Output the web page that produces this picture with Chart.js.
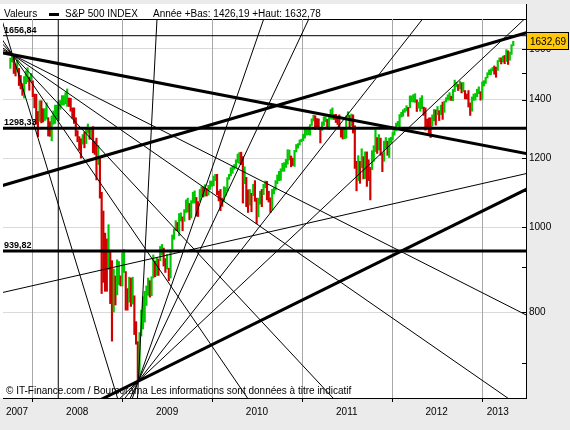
<!DOCTYPE html>
<html><head><meta charset="utf-8">
<script src="https://cdn.jsdelivr.net/npm/chart.js@4.4.1/dist/chart.umd.min.js"></script>
<style>html,body{margin:0;padding:0;background:#ebebeb}canvas{display:block}</style>
</head><body>
<canvas id="c" width="570" height="430"></canvas>
<script>
// ---------- DATA ----------
// weekly bars of the S&P 500, first week = week of 1 Oct 2007 (decimal year of mid-week)
const firstWeek = 2007.756;
const weekStep = 7 / 365.25;
const weekLow = [
 // 2007 (Oct-Dec)
 1520,1546,1500,1490,1507,1453,1440,1416,1406,1460,1467,1435,1470,1411,
 // 2008
 1370,1312,1270,1322,1317,1320,1325,1330,1272,1271,1256,1312,1315,1331,1325,1365,1380,1380,1385,1375,1375,1358,1333,1315,1272,1253,
 1225,1200,1245,1233,1247,1282,1261,1263,1217,1212,1133,1180,1080,840,865,845,845,895,818,741,800,815,837,860,857,857,
 // 2009
 888,804,804,821,812,817,754,735,667,672,751,765,779,814,836,832,835,875,878,881,881,916,930,903,888,896,
 869,875,944,969,991,991,978,1017,991,1016,1040,1041,1020,1025,1066,1066,1030,1029,1070,1085,1083,1086,1086,1089,1105,1114,
 // 2010
 1116,1131,1090,1072,1045,1057,1073,1087,1100,1135,1145,1153,1165,1170,1186,1183,1180,1066,1122,1056,1040,1060,1042,1087,1071,1010,
 1028,1063,1056,1090,1110,1075,1069,1040,1047,1092,1103,1122,1131,1132,1159,1159,1171,1181,1194,1173,1177,1174,1220,1232,1242,1253,
 // 2011
 1257,1265,1275,1276,1275,1308,1323,1294,1302,1294,1249,1291,1308,1321,1303,1294,1330,1329,1329,1318,1311,1296,1268,1262,1263,1265,
 1337,1303,1306,1282,1168,1101,1131,1123,1170,1136,1137,1114,1131,1075,1164,1190,1221,1215,1226,1209,1158,1190,1232,1209,1202,1248,
 // 2012
 1259,1275,1290,1306,1300,1337,1340,1354,1359,1340,1370,1392,1391,1390,1357,1369,1358,1367,1343,1292,1296,1278,1267,1306,1324,1309,
 1345,1325,1346,1329,1354,1391,1398,1398,1397,1396,1430,1449,1434,1440,1425,1429,1403,1402,1373,1343,1358,1397,1398,1411,1422,1398,1402,
 // 2013
 1451,1461,1482,1495,1495,1510,1497,1485,1512,1547,1538,1546,1539,1548,1536,1553,1577,1614
];
const weekHigh = [
 // 2007 (Oct-Dec)
 1562,1576,1563,1536,1552,1520,1492,1460,1488,1510,1523,1486,1500,1471,
 // 2008
 1421,1420,1357,1396,1396,1367,1367,1388,1335,1321,1341,1359,1380,1380,1395,1397,1415,1415,1426,1440,1406,1405,1370,1370,1335,1290,
 1270,1263,1277,1285,1296,1313,1300,1300,1304,1255,1265,1241,1200,1097,1044,985,970,1007,937,916,896,880,918,914,880,935,
 // 2009
 943,890,851,877,875,877,835,780,740,758,804,833,845,857,875,869,878,930,915,924,920,951,956,947,921,931,
 898,942,980,996,1018,1013,1037,1039,1028,1048,1075,1080,1065,1073,1097,1101,1082,1070,1105,1113,1112,1119,1108,1117,1130,1130,
 // 2010
 1145,1150,1150,1100,1105,1080,1113,1111,1140,1150,1170,1175,1180,1195,1213,1218,1219,1205,1173,1141,1104,1105,1094,1120,1131,1080,
 1080,1100,1105,1120,1130,1129,1100,1081,1105,1110,1131,1148,1159,1167,1184,1186,1196,1227,1226,1207,1200,1225,1244,1247,1259,1262,
 // 2011
 1278,1296,1297,1302,1311,1331,1344,1342,1332,1331,1300,1320,1338,1339,1329,1341,1364,1370,1346,1347,1334,1345,1300,1295,1298,1341,
 1356,1343,1348,1345,1307,1190,1208,1190,1230,1205,1220,1220,1195,1171,1224,1240,1293,1267,1277,1265,1215,1255,1267,1255,1265,1268,
 // 2012
 1284,1296,1316,1322,1346,1354,1363,1368,1378,1372,1414,1414,1419,1422,1399,1391,1406,1415,1373,1370,1330,1334,1335,1345,1364,1363,
 1375,1360,1380,1391,1395,1407,1418,1426,1413,1438,1474,1465,1457,1470,1464,1465,1434,1421,1434,1388,1410,1421,1423,1439,1448,1430,1467,
 // 2013
 1472,1485,1503,1514,1518,1524,1530,1525,1552,1563,1563,1570,1573,1597,1592,1587,1618,1633
];
const lastClose = 1632.69;
const seriesName = 'S&P 500 INDEX';
const headerText = 'Année +Bas: 1426,19 +Haut: 1632,78';

const yearTicks = [2008, 2009, 2010, 2011, 2012, 2013];
const yearLabels = ['2007', '2008', '2009', '2010', '2011', '2012', '2013'];
const yearLabelAt = [2007.83, 2008.5, 2009.5, 2010.5, 2011.5, 2012.5, 2013.18];
const priceTicks = [700, 800, 900, 1000, 1100, 1200, 1300, 1400, 1500, 1600];
const priceLabels = [800, 1000, 1200, 1400, 1600];

// horizontal levels
const levelValues = [1656.84, 1298.33, 939.82];
const levelLabels = ['1656,84', '1298,33', '939,82'];
// fan drawn from the Oct 2007 top: anchor and a second point on each ray
const topAnchor = [2007.78, 1576];
const topFanPoints = [[2013.494, 1215], [2013.494, 794], [2013.0, 669], [2011.346, 638], [2010.394, 638], [2008.92, 652]];
// fan drawn from the March 2009 bottom
const lowAnchor = [2009.18, 667];
const lowFanPoints = [[2013.494, 1105], [2013.464, 1726], [2012.333, 1726], [2011.071, 1726], [2010.571, 1726], [2009.387, 1726]];
// other trend lines [t1, v1, t2, v2]
const trendLines = [[2007.674, 1117, 2013.494, 1669], [2007.641, 841, 2013.494, 1152]];
const verticalDates = [2008.289];

// ---------- STYLE ----------
const FONT = "'Liberation Sans', Arial, sans-serif";
const UP = '#00c800', DOWN = '#d00000';
const xMin = 2007.674, xMax = 2013.494;
const yMin = 637.9, yMax = 1731.4;
const levelWidths = [1, 3, 3];
const topFanWidths = [3, 1, 1, 1, 1, 1];
const lowFanWidths = [3, 1, 1, 1, 1, 1];
const trendWidths = [3, 1];

// ---------- BUILD ----------
const bars = weekLow.map((lo, i) => ({ x: firstWeek + i * weekStep, y: [lo, weekHigh[i]] }));
const barColors = weekLow.map((lo, i) => {
  if (i === 0) return UP;
  const m = (lo + weekHigh[i]) / 2, p = (weekLow[i - 1] + weekHigh[i - 1]) / 2;
  return m >= p ? UP : DOWN;
});

function ray(t1, v1, t2, v2) {
  const r = Math.log(v2 / v1) / (t2 - t1);
  const a = xMin - 0.05, b = xMax + 0.05;
  return [{ x: a, y: v1 * Math.exp(r * (a - t1)) }, { x: b, y: v1 * Math.exp(r * (b - t1)) }];
}
function lineDs(data, w) {
  return { type: 'line', data, borderColor: '#000', borderWidth: w, pointRadius: 0, tension: 0, clip: 0, order: 0, fill: false };
}
const datasets = [];
levelValues.forEach((v, i) => datasets.push(lineDs([{ x: xMin - 0.05, y: v }, { x: xMax + 0.05, y: v }], levelWidths[i])));
topFanPoints.forEach((p, i) => datasets.push(lineDs(ray(topAnchor[0], topAnchor[1], p[0], p[1]), topFanWidths[i])));
lowFanPoints.forEach((p, i) => datasets.push(lineDs(ray(lowAnchor[0], lowAnchor[1], p[0], p[1]), lowFanWidths[i])));
trendLines.forEach((l, i) => datasets.push(lineDs(ray(l[0], l[1], l[2], l[3]), trendWidths[i])));
verticalDates.forEach(t => datasets.push(lineDs([{ x: t, y: 500 }, { x: t, y: 2000 }], 1)));
datasets.push({ type: 'bar', data: bars, backgroundColor: barColors, borderWidth: 0, barThickness: 1.5, order: 10, grouped: false });

const decor = {
  id: 'decor',
  beforeDraw(chart) {
    const c = chart.ctx;
    c.save();
    c.fillStyle = '#ebebeb'; c.fillRect(0, 0, 570, 430);
    c.fillStyle = '#ffffff'; c.fillRect(0, 4, 526, 394);
    c.fillStyle = '#000';
    c.font = '10px ' + FONT; c.textBaseline = 'alphabetic'; c.textAlign = 'left';
    c.fillText('Valeurs', 4, 17);
    c.fillRect(49, 13, 10, 3);
    c.fillText(seriesName, 65, 17);
    c.fillText(headerText, 153, 17);
    c.strokeStyle = '#000'; c.lineWidth = 1;
    c.beginPath(); c.moveTo(0, 19.5); c.lineTo(526, 19.5); c.stroke();
    c.restore();
  },
  beforeDatasetsDraw(chart) {
    const c = chart.ctx, xs = chart.scales.x, a = chart.chartArea;
    c.save();
    c.strokeStyle = '#a8a8a8'; c.lineWidth = 1;
    yearTicks.forEach(t => {
      const x = Math.round(xs.getPixelForValue(t)) + 0.5;
      c.beginPath(); c.moveTo(x, a.top); c.lineTo(x, a.bottom); c.stroke();
    });
    c.fillStyle = '#000'; c.font = '10px ' + FONT; c.textAlign = 'left';
    c.fillText('\u00A9 IT-Finance.com / Boursorama Les informations sont données à titre indicatif', 6, 394);
    c.restore();
  },
  afterDatasetsDraw(chart) {
    const c = chart.ctx, xs = chart.scales.x, ys = chart.scales.y, a = chart.chartArea;
    c.save();
    c.fillStyle = '#000'; c.font = 'bold 9px ' + FONT; c.textAlign = 'left';
    levelValues.forEach((v, i) => c.fillText(levelLabels[i], 4, ys.getPixelForValue(v) - 3));
    c.strokeStyle = '#000'; c.lineWidth = 1;
    priceTicks.forEach(v => {
      const y = Math.round(ys.getPixelForValue(v)) + 0.5;
      c.beginPath(); c.moveTo(522, y); c.lineTo(a.right, y); c.stroke();
    });
    yearTicks.forEach(t => {
      const x = Math.round(xs.getPixelForValue(t)) + 0.5;
      c.beginPath(); c.moveTo(x, a.bottom); c.lineTo(x, a.bottom + 4); c.stroke();
    });
    c.beginPath(); c.moveTo(a.right + 0.5, 4); c.lineTo(a.right + 0.5, a.bottom); c.stroke();
    const py = Math.round(ys.getPixelForValue(lastClose));
    c.fillStyle = '#ffc80a'; c.fillRect(526.5, py - 8.5, 42, 17);
    c.strokeRect(526.5, py - 8.5, 42, 17);
    c.fillStyle = '#000'; c.font = '10px ' + FONT;
    c.fillText(String(lastClose).replace('.', ','), 530, py + 4);
    c.restore();
  }
};

new Chart(document.getElementById('c'), {
  type: 'bar',
  data: { datasets },
  plugins: [decor],
  options: {
    responsive: false, animation: false, devicePixelRatio: 1, events: [],
    layout: { padding: { left: 3, top: 19, right: 0, bottom: 0 } },
    plugins: { legend: { display: false }, tooltip: { enabled: false } },
    scales: {
      x: {
        type: 'linear', min: xMin, max: xMax, offset: false,
        grid: { display: false }, border: { display: true, color: '#000' },
        afterBuildTicks: s => { s.ticks = yearLabelAt.map(v => ({ value: v })); },
        afterFit: s => { s.height = 32; },
        ticks: { autoSkip: false, maxRotation: 0, padding: 0, color: '#000', font: { family: FONT, size: 10 },
          callback: (v, i) => yearLabels[i] }
      },
      y: {
        type: 'logarithmic', position: 'right', min: yMin, max: yMax,
        afterBuildTicks: s => { s.ticks = priceTicks.map(v => ({ value: v })); },
        afterFit: s => { s.width = 44; },
        grid: { drawTicks: false, color: c => (c.tick && priceLabels.includes(c.tick.value)) ? '#dadada' : 'rgba(0,0,0,0)' },
        border: { display: true, color: '#000' },
        ticks: { autoSkip: false, padding: 3, color: '#000', font: { family: FONT, size: 10 },
          callback: v => priceLabels.includes(v) ? String(v) : '' }
      }
    }
  }
});
</script>
</body></html>
